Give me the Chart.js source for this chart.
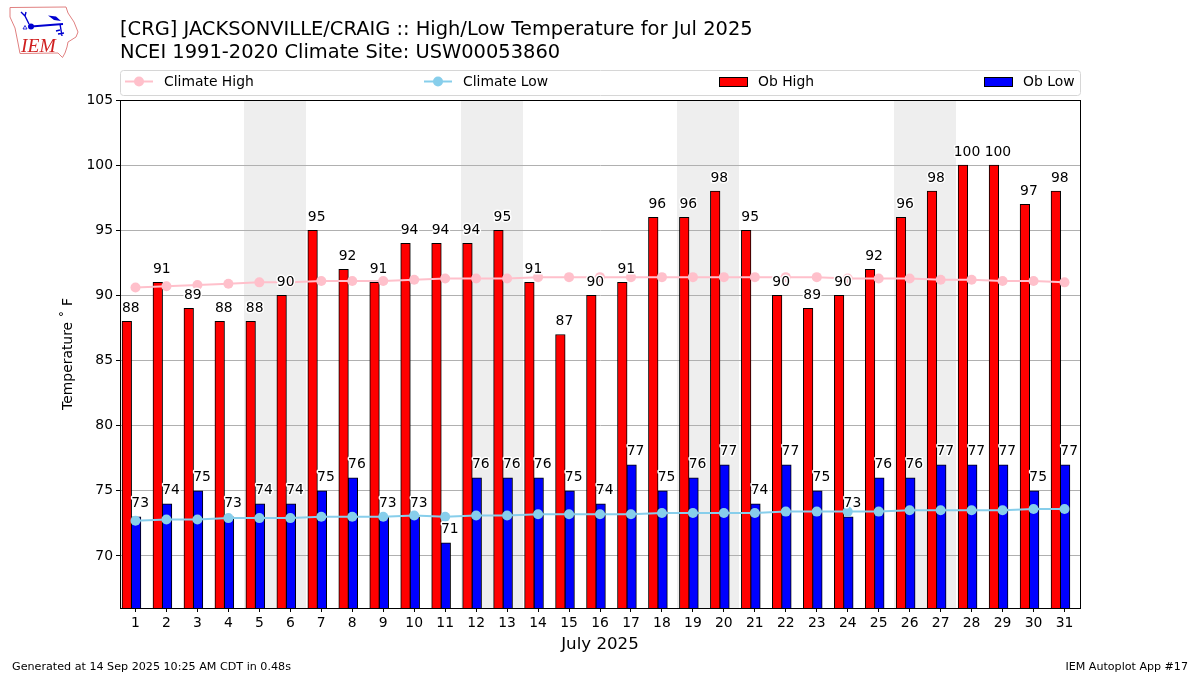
<!DOCTYPE html>
<html>
<head>
<meta charset="utf-8">
<title>High/Low Temperature for Jul 2025</title>
<script src="https://cdn.jsdelivr.net/npm/chart.js@4/dist/chart.umd.min.js"></script>
<style>
  body { margin: 0; background: #fff; font-family: "DejaVu Sans", sans-serif; }
  #wrap { position: relative; width: 1200px; height: 675px; overflow: hidden; }
  canvas { position: absolute; left: 0; top: 0; }
  .txt { position: absolute; color: #000; white-space: nowrap; }
  #title { left: 120px; top: 18px; font-size: 19.45px; line-height: 22.5px; }
  #footL { left: 12px; top: 660px; font-size: 11.15px; }
  #footR { right: 12px; top: 660px; font-size: 11.1px; }
  #logo { position: absolute; left: 0; top: 0; }
</style>
</head>
<body>
<div id="wrap">
  <canvas id="chart" width="1200" height="675"></canvas>
  <svg id="logo" width="90" height="65" viewBox="0 0 90 65">
    <path d="M10 7.5 L66 7 L68 13 L74 22 L78 32 L76 37 L68 42 L67 47 L65 53 L62.5 57.5 L58 53 L20 53.5 L18 43 L15 28 L10 17 Z" fill="none" stroke="#e08080" stroke-width="1"/>
    <path d="M31 26.5 L63 24" stroke="#0000d0" stroke-width="2" fill="none"/>
    <circle cx="31" cy="26.5" r="3" fill="#0000d0"/>
    <path d="M29 24 L25 16 M25 16 L21 12 M25 16 L26 12" stroke="#0000d0" stroke-width="1.4" fill="none"/>
    <path d="M48 15.5 L56 16.5 L61 21 L54 20 Z" fill="#0000d0"/>
    <path d="M60 24 L62 36 M56 31 L60 30 M58 34 L64 33" stroke="#0000d0" stroke-width="1.4" fill="none"/>
    <path d="M23 29 L25 25.5 L27 29 Z" fill="none" stroke="#0000d0" stroke-width="0.8"/>
    <text x="21" y="52" font-family="Liberation Serif" font-style="italic" font-size="19.5" fill="#d02020">IEM</text>
  </svg>
  <div id="title" class="txt">[CRG] JACKSONVILLE/CRAIG :: High/Low Temperature for Jul 2025<br>NCEI 1991-2020 Climate Site: USW00053860</div>
  <div id="footL" class="txt">Generated at 14 Sep 2025 10:25 AM CDT in 0.48s</div>
  <div id="footR" class="txt">IEM Autoplot App #17</div>
</div>
<script>
const days = [1,2,3,4,5,6,7,8,9,10,11,12,13,14,15,16,17,18,19,20,21,22,23,24,25,26,27,28,29,30,31];
const obHigh = [88,91,89,88,88,90,95,92,91,94,94,94,95,91,87,90,91,96,96,98,95,90,89,90,92,96,98,100,100,97,98];
const obLow = [73,74,75,73,74,74,75,76,73,73,71,76,76,76,75,74,77,75,76,77,74,77,75,73,76,76,77,77,77,75,77];
const climateHigh = [90.6,90.7,90.8,90.9,91.0,91.0,91.1,91.1,91.1,91.2,91.3,91.3,91.3,91.4,91.4,91.4,91.4,91.4,91.4,91.4,91.4,91.4,91.4,91.3,91.3,91.3,91.2,91.2,91.1,91.1,91.0];
const climateLow = [72.7,72.8,72.8,72.9,72.9,72.9,73.0,73.0,73.0,73.1,73.0,73.1,73.1,73.2,73.2,73.2,73.2,73.3,73.3,73.3,73.3,73.4,73.4,73.4,73.4,73.5,73.5,73.5,73.5,73.6,73.6];
const weekendDays = [5,6,12,13,19,20,26,27];
const yTicks = [70,75,80,85,90,95,100,105];

const FONT = '"DejaVu Sans", sans-serif';
const HIGH_SHIFT = -0.28;
const LOW_SHIFT = 0.02;

const weekendShade = {
  id: 'weekendShade',
  beforeDraw(chart) {
    const { ctx, chartArea, scales } = chart;
    ctx.save();
    ctx.fillStyle = '#eeeeee';
    weekendDays.forEach(d => {
      const x0 = Math.round(scales.x.getPixelForValue(d - 0.5));
      const x1 = Math.round(scales.x.getPixelForValue(d + 0.5));
      ctx.fillRect(x0, chartArea.top, x1 - x0, chartArea.bottom - chartArea.top);
    });
    ctx.restore();
  }
};

const barLabels = {
  id: 'barLabels',
  afterDatasetsDraw(chart) {
    const { ctx, scales } = chart;
    ctx.save();
    ctx.font = '13.9px ' + FONT;
    ctx.textAlign = 'center';
    ctx.textBaseline = 'middle';
    ctx.lineJoin = 'round';
    const put = (text, x, y) => {
      ctx.strokeStyle = '#fff';
      ctx.lineWidth = 3;
      ctx.strokeText(text, x, y);
      ctx.fillStyle = '#000';
      ctx.fillText(text, x, y);
    };
    days.forEach((d, i) => {
      put(String(obHigh[i]), scales.x.getPixelForValue(d - 0.15), scales.y.getPixelForValue(obHigh[i]) - 13);
      put(String(obLow[i]), scales.x.getPixelForValue(d + 0.15), scales.y.getPixelForValue(obLow[i]) - 13);
    });
    ctx.restore();
  }
};

const frameAndLegend = {
  id: 'frameAndLegend',
  afterDraw(chart) {
    const { ctx, chartArea: a } = chart;
    ctx.save();
    ctx.strokeStyle = '#000';
    ctx.lineWidth = 1;
    ctx.strokeRect(a.left + 0.5, a.top + 0.5, a.right - a.left, a.bottom - a.top);

    ctx.strokeStyle = '#d6d6d6';
    ctx.beginPath();
    ctx.roundRect(120.5, 70.5, 960, 25, 3);
    ctx.stroke();

    const slots = [125, 424, 719, 984];
    const ds = chart.data.datasets;
    ctx.font = '13.9px ' + FONT;
    ctx.textBaseline = 'middle';
    ctx.textAlign = 'left';
    slots.forEach((x, i) => {
      const item = ds[i];
      if (item.type === 'line') {
        ctx.strokeStyle = item.borderColor;
        ctx.lineWidth = 2;
        ctx.beginPath();
        ctx.moveTo(x, 81.5);
        ctx.lineTo(x + 28, 81.5);
        ctx.stroke();
        ctx.fillStyle = item.borderColor;
        ctx.beginPath();
        ctx.arc(x + 14, 81.5, 5, 0, Math.PI * 2);
        ctx.fill();
      } else {
        ctx.fillStyle = item.backgroundColor;
        ctx.fillRect(x, 77, 28, 10);
        ctx.strokeStyle = '#000';
        ctx.lineWidth = 1;
        ctx.strokeRect(x + 0.5, 77.5, 28, 9);
      }
      ctx.fillStyle = '#000';
      ctx.fillText(item.label, x + 39, 82.5);
    });
    ctx.restore();
  }
};

new Chart(document.getElementById('chart').getContext('2d'), {
  data: {
    datasets: [
      { type: 'line', label: 'Climate High', order: 0, data: days.map((d, i) => ({ x: d, y: climateHigh[i] })),
        borderColor: 'pink', backgroundColor: 'pink', borderWidth: 2, pointRadius: 5, pointBorderWidth: 0, tension: 0 },
      { type: 'line', label: 'Climate Low', order: 0, data: days.map((d, i) => ({ x: d, y: climateLow[i] })),
        borderColor: 'skyblue', backgroundColor: 'skyblue', borderWidth: 2, pointRadius: 5, pointBorderWidth: 0, tension: 0 },
      { type: 'bar', label: 'Ob High', order: 1, data: days.map((d, i) => ({ x: d + HIGH_SHIFT, y: obHigh[i] })),
        backgroundColor: '#ff0000', borderColor: '#000', borderWidth: 1, barThickness: 9.6, grouped: false, borderSkipped: false },
      { type: 'bar', label: 'Ob Low', order: 1, data: days.map((d, i) => ({ x: d + LOW_SHIFT, y: obLow[i] })),
        backgroundColor: '#0000ff', borderColor: '#000', borderWidth: 1, barThickness: 9.6, grouped: false, borderSkipped: false }
    ]
  },
  plugins: [weekendShade, barLabels, frameAndLegend],
  options: {
    responsive: false,
    animation: false,
    devicePixelRatio: 1,
    layout: { padding: { left: 60, right: 120, top: 100, bottom: 20 } },
    plugins: { legend: { display: false }, title: { display: false }, tooltip: { enabled: false } },
    scales: {
      x: {
        type: 'linear',
        offset: false,
        min: 0.5,
        max: 31.5,
        afterBuildTicks: axis => { axis.ticks = days.map(value => ({ value })); },
        afterFit: axis => { axis.height = 47; },
        grid: { offset: false, drawOnChartArea: false, tickColor: '#000', tickLength: 4 },
        border: { color: '#000' },
        ticks: { color: '#000', font: { family: FONT, size: 13.9 }, padding: 3, maxRotation: 0, autoSkip: false, callback: v => String(v) },
        title: { display: true, text: 'July 2025', color: '#000', font: { family: FONT, size: 16.67 }, padding: 0 }
      },
      y: {
        type: 'linear',
        min: 66,
        max: 105,
        afterBuildTicks: axis => { axis.ticks = yTicks.map(value => ({ value })); },
        afterFit: axis => { axis.width = 60; },
        grid: { color: '#b0b0b0', tickColor: '#000', tickLength: 4, lineWidth: 1 },
        border: { color: '#000' },
        ticks: { color: '#000', font: { family: FONT, size: 13.9 }, padding: 3, callback: v => String(v) },
        title: { display: true, text: 'Temperature \u02DA F', color: '#000', font: { family: FONT, size: 13.9 }, padding: 0 }
      }
    }
  }
});
</script>
</body>
</html>
